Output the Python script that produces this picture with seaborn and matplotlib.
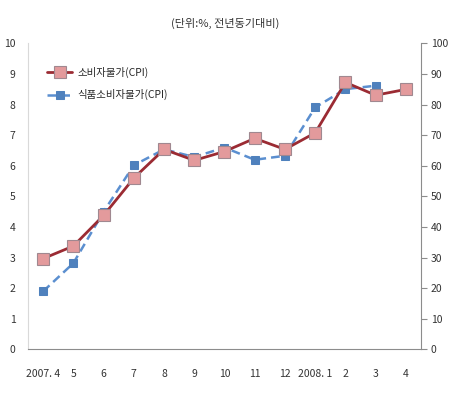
import numpy as np
import pandas as pd
import seaborn as sns
import matplotlib
matplotlib.use("Agg")
import matplotlib.pyplot as plt

sns.set_style("white")
plt.rcParams['font.family'] = ['Noto Sans CJK KR', 'DejaVu Sans']
plt.rcParams['axes.unicode_minus'] = False

# 데이터
months = ["2007. 4", "5", "6", "7", "8", "9", "10", "11", "12", "2008. 1", "2", "3", "4"]
cpi = [2.97, 3.38, 4.38, 5.6, 6.54, 6.18, 6.47, 6.9, 6.54, 7.08, 8.73, 8.31, 8.5]
food_cpi = [19, 28.2, 45, 60.2, 65.4, 62.9, 66, 62, 63.3, 79.1, 85.1, 86.2]  # 오른쪽 축

pos = np.arange(len(months))
df1 = pd.DataFrame({"x": pos, "y": cpi})
df2 = pd.DataFrame({"x": pos[:len(food_cpi)], "y": food_cpi})

fig = plt.figure(figsize=(4.62, 3.95), dpi=100)
ax = fig.add_axes([0.0606, 0.1152, 0.8506, 0.7747])
ax2 = ax.twinx()

sns.lineplot(data=df2, x="x", y="y", ax=ax2, color="#5B8FD0", linestyle=(0, (3.5, 2)), linewidth=1.8,
             marker="s", markersize=5.5, markerfacecolor="#4F81BD", markeredgecolor="#4F81BD",
             label="식품소비자물가(CPI)", legend=False)
sns.lineplot(data=df1, x="x", y="y", ax=ax, color="#9B2B33", linewidth=2,
             marker="s", markersize=9, markerfacecolor="#E39A9C", markeredgecolor="#A08890",
             markeredgewidth=0.8, label="소비자물가(CPI)", legend=False)

# 빨간 선이 위로 오도록
ax.set_zorder(ax2.get_zorder() + 1)
ax.patch.set_visible(False)

ax.set_xlim(-0.5, len(months) - 0.5)
ax.set_ylim(0, 10)
ax2.set_ylim(0, 100)
ax.set_yticks(range(0, 11))
ax2.set_yticks(range(0, 101, 10))
ax.set_xticks(pos)
ax.set_xticklabels(months)
ax.set_xlabel("")
ax.set_ylabel("")
ax2.set_ylabel("")

for a in (ax, ax2):
    for s in a.spines.values():
        s.set_visible(False)
ax.spines['left'].set_visible(True)
ax.spines['left'].set_color("#d9d9d9")
ax.spines['bottom'].set_visible(True)
ax.spines['bottom'].set_color("#8c8c8c")
ax2.spines['right'].set_visible(True)
ax2.spines['right'].set_color("#8c8c8c")

ax.tick_params(axis='y', length=0, pad=9, labelsize=7.5, colors="#333333")
ax.tick_params(axis='x', length=0, pad=14, labelsize=7.5, colors="#333333")
ax2.tick_params(axis='y', length=4, width=0.8, color="#8c8c8c", pad=3, labelsize=7.5, labelcolor="#333333")

h1, l1 = ax.get_legend_handles_labels()
h2, l2 = ax2.get_legend_handles_labels()
ax.legend(h1 + h2, l1 + l2, loc="upper left", bbox_to_anchor=(0.025, 0.955), frameon=False,
          fontsize=7.5, handlelength=2.4, handletextpad=0.5, labelspacing=1.1, numpoints=1)

fig.text(0.487, 0.94, "(단위:%, 전년동기대비)", ha="center", va="center", fontsize=8, color="#333333")

fig.savefig("out.png", dpi=100)
